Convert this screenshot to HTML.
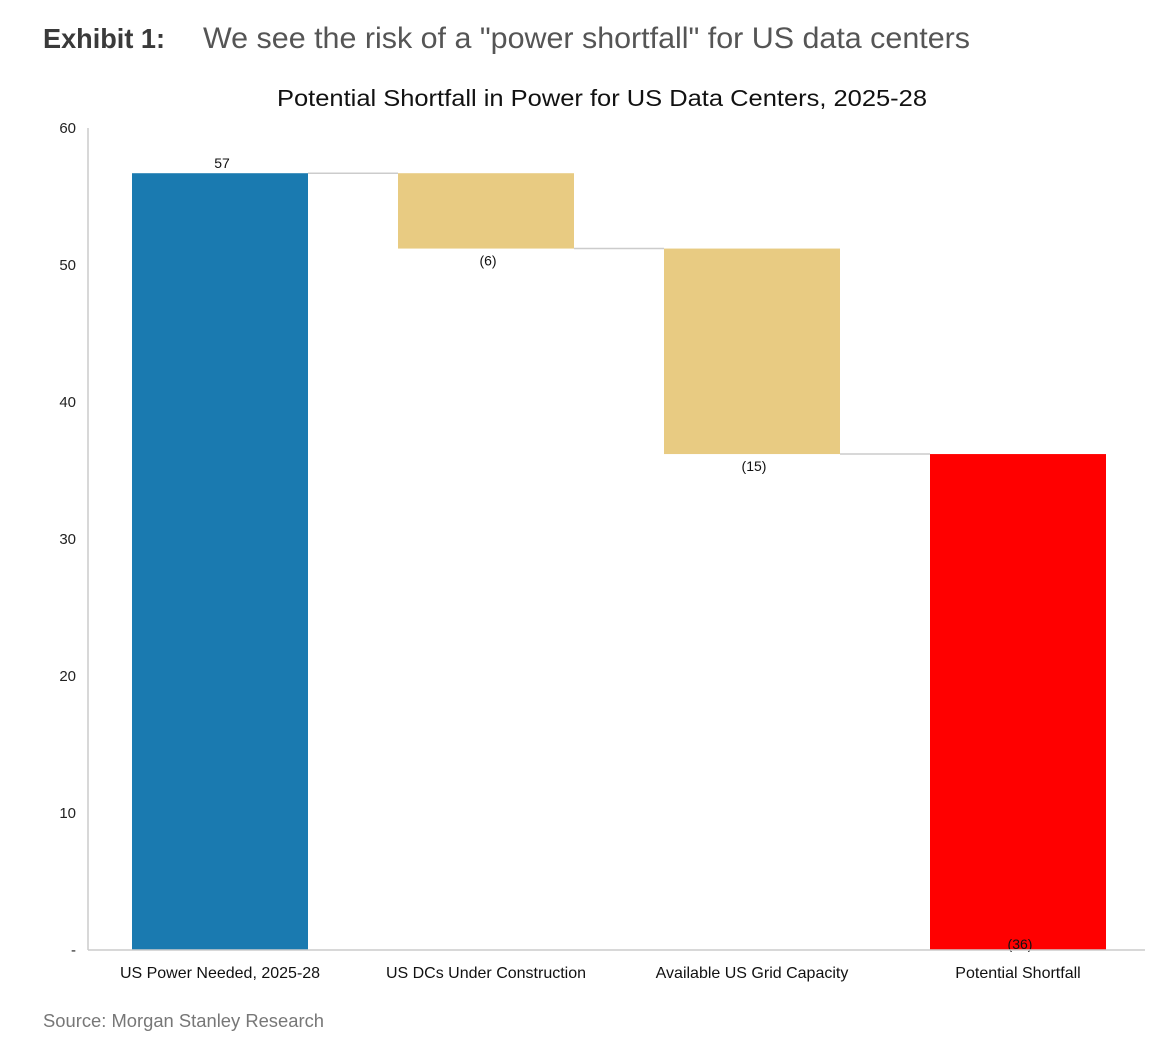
<!DOCTYPE html>
<html><head><meta charset="utf-8"><style>
body{margin:0;background:#fff;width:1152px;height:1041px;overflow:hidden;font-family:"Liberation Sans",sans-serif}
</style></head><body>
<svg width="1152" height="1041" xmlns="http://www.w3.org/2000/svg">
<text x="43" y="48" font-size="28" font-weight="bold" fill="#3a3a3a" textLength="122" lengthAdjust="spacingAndGlyphs">Exhibit 1:</text>
<text x="203" y="48" font-size="30" fill="#555" textLength="767" lengthAdjust="spacingAndGlyphs">We see the risk of a "power shortfall" for US data centers</text>
<text x="277" y="106" font-size="23" fill="#111" textLength="650" lengthAdjust="spacingAndGlyphs">Potential Shortfall in Power for US Data Centers, 2025-28</text>
<g id="plot"></g>
<text x="43" y="1027" font-size="18" fill="#777" textLength="281" lengthAdjust="spacingAndGlyphs">Source: Morgan Stanley Research</text>
</svg>
<script>
const categories=["US Power Needed, 2025-28","US DCs Under Construction","Available US Grid Capacity","Potential Shortfall"];
const values=[56.7,-5.5,-15.0,36.2];
const kinds=["total","delta","delta","total"];
const valueLabels=["57","(6)","(15)","(36)"];
const yTicks=[0,10,20,30,40,50,60];
const yTickLabels=["-","10","20","30","40","50","60"];
const colors={first:"#1a7ab0",delta:"#e8cb82",last:"#ff0000"};
const NS="http://www.w3.org/2000/svg";
const g=document.getElementById('plot');
const y0=950,yTop=128,xL=88,xR=1145;
const y=v=>y0-(v/60)*(y0-yTop);
const step=266,bw=176,x0=132;
const xc=i=>x0+i*step;
function mk(t,a,txt){const e=document.createElementNS(NS,t);for(const k in a)e.setAttribute(k,a[k]);if(txt!==undefined)e.textContent=txt;g.appendChild(e);return e;}
yTicks.forEach((t,i)=>{const e=mk('text',{x:76,y:y(t)+5,'font-size':15,fill:'#222','text-anchor':'end'},yTickLabels[i]);

});
let run=0;const tops=[];
values.forEach((v,i)=>{let lo,hi,c;
 if(kinds[i]==='total'){lo=0;hi=v;run=v;c=i===0?colors.first:colors.last;}
 else{hi=run;lo=run+v;run=lo;c=colors.delta;}
 tops.push(run);
 const r=mk('rect',{x:xc(i),y:y(hi),width:bw,height:y(lo)-y(hi),fill:c});
 
 
 const ly=kinds[i]==='total'&&i===0?y(hi)-5:(i===values.length-1?y(0)-1:y(lo)+17);
 const l=mk('text',{x:xc(i)+bw/2+2,y:ly,'font-size':14,fill:'#111','text-anchor':'middle'},valueLabels[i]);
 
 
 const cl=mk('text',{x:xc(i)+bw/2,y:978,'font-size':16,fill:'#111','text-anchor':'middle'},categories[i]);
 
 
});
for(let i=0;i<values.length-1;i++){const c=mk('line',{x1:xc(i)+bw,x2:xc(i+1),y1:y(tops[i]),y2:y(tops[i]),stroke:'#ccc','stroke-width':1.5});
 
 }
const ya=mk('line',{x1:xL,x2:xL,y1:yTop,y2:y0,stroke:'#ccc','stroke-width':1.5});


const xa=mk('line',{x1:xL,x2:xR,y1:y0,y2:y0,stroke:'#ccc','stroke-width':1.5});


</script>
</body></html>
